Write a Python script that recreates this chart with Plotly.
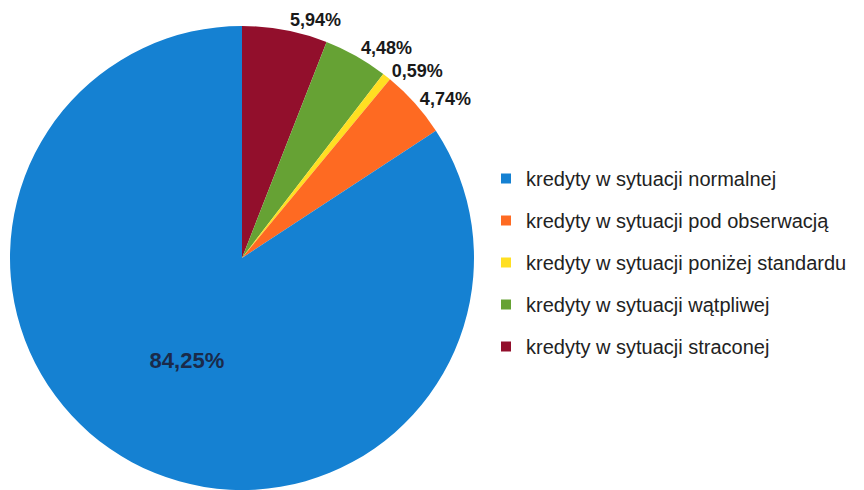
import plotly.graph_objects as go

categories = [
    "kredyty w sytuacji normalnej",
    "kredyty w sytuacji pod obserwacją",
    "kredyty w sytuacji poniżej standardu",
    "kredyty w sytuacji wątpliwej",
    "kredyty w sytuacji straconej",
]
values = [84.25, 4.74, 0.59, 4.48, 5.94]
value_labels = ["84,25%", "4,74%", "0,59%", "4,48%", "5,94%"]
colors = ["#1581d2", "#fe6a22", "#ffdf22", "#66a234", "#920f2c"]

# pie drawn clockwise from 12 o'clock starting with the last category
order = list(range(len(categories)))[::-1]

fig = go.Figure()

fig.add_trace(go.Pie(
    labels=[categories[i] for i in order],
    values=[values[i] for i in order],
    text=[value_labels[i] for i in order],
    textinfo="text",
    sort=False,
    direction="clockwise",
    rotation=0,
    automargin=False,
    marker=dict(colors=[colors[i] for i in order], line=dict(width=0)),
    textposition=["outside", "outside", "outside", "outside", "inside"],
    insidetextorientation="horizontal",
    outsidetextfont=dict(family="Liberation Sans, Arial, sans-serif", size=18, color="#1a1a1a", weight="bold"),
    insidetextfont=dict(family="Liberation Sans, Arial, sans-serif", size=22, color="#1a2a4a", weight="bold"),
    showlegend=False,
    hoverinfo="label+percent",
    domain=dict(x=[2/864, 466/864], y=[8/490, 472/490]),
))

# legend entries (one per category)
for name, col in zip(categories, colors):
    fig.add_trace(go.Scatter(
        x=[None], y=[None], mode="markers", name=name, legendgroup=name,
        marker=dict(symbol="square", size=10, color=col),
        showlegend=True,
    ))

fig.update_layout(
    width=864, height=490,
    margin=dict(l=0, r=0, t=0, b=0, autoexpand=False),
    paper_bgcolor="white",
    plot_bgcolor="white",
    xaxis=dict(visible=False),
    yaxis=dict(visible=False),
    legend=dict(
        x=478/864, y=1 - 151/490, xanchor="left", yanchor="top",
        font=dict(family="Liberation Sans, Arial, sans-serif", size=20, color="#222222"),
        tracegroupgap=13,
        itemwidth=30,
        bgcolor="rgba(0,0,0,0)",
    ),
)

fig.write_html("out.html")
